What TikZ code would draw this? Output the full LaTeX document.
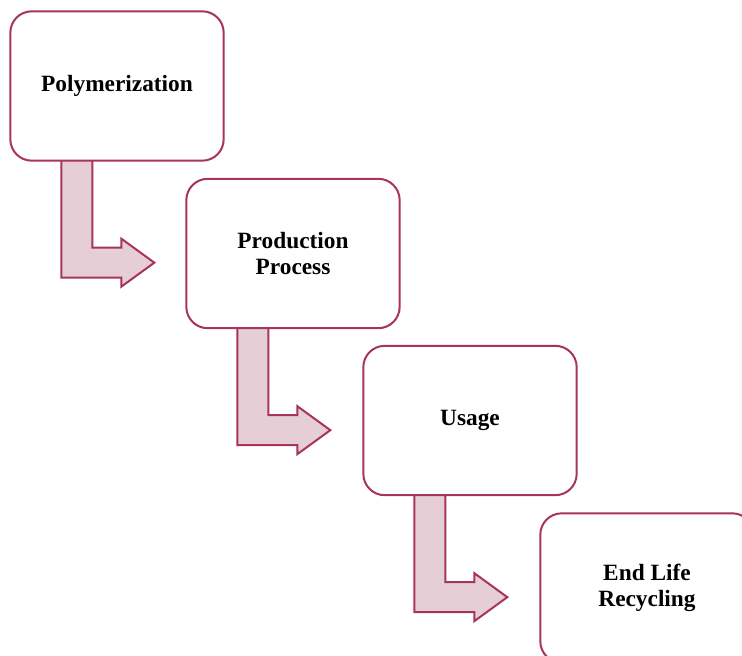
\documentclass[tikz,border=0pt]{standalone}
\usepackage{fontspec}
\setmainfont{Liberation Serif}
\usetikzlibrary{calc,backgrounds}
\definecolor{stepline}{RGB}{168,52,88}
\definecolor{stepfill}{RGB}{229,206,213}
\tikzset{
  stagebox/.style={draw=stepline, line width=1.5pt, rounded corners=16pt, fill=white,
    minimum width=160pt, minimum height=112pt, align=center,
    font=\bfseries\fontsize{17.5}{19}\selectfont},
  flow/.style={draw=stepline, fill=stepfill, line width=1.5pt}
}
% bent arrow hanging below a box, origin = top left corner of its stem
\newcommand\bentarrow[1]{%
  \draw[flow, shift={($(#1.south west)+(52,-3)$)}] (0,0) -- (31,0) -- (31,89)
    -- (60,89) -- (60,80) -- (93,104) -- (60,128) -- (60,119) -- (0,119) -- cycle;}
\begin{document}
\begin{tikzpicture}[x=0.75pt,y=-0.75pt]
  \useasboundingbox (0,0) rectangle (742,656);
  \node[stagebox] (poly) at (117,86) {Polymerization};
  \node[stagebox] (prod) at (293,253.5) {Production\\Process};
  \node[stagebox] (usage) at (470,420.5) {Usage};
  \node[stagebox] (recyc) at (647,588) {End Life\\Recycling};
  % arrows go behind the boxes
  \begin{scope}[on background layer]
    \bentarrow{poly}
    \bentarrow{prod}
    \bentarrow{usage}
  \end{scope}
\end{tikzpicture}
\end{document}
